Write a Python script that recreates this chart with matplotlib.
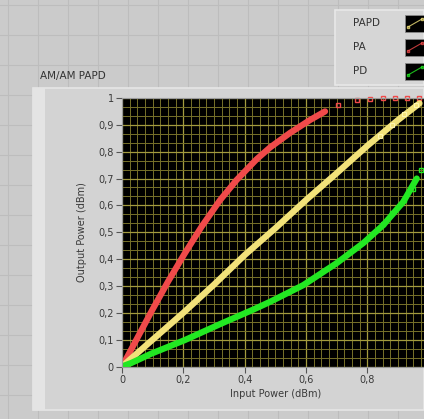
import matplotlib.pyplot as plt
import numpy as np
from matplotlib.patches import Rectangle
from matplotlib.lines import Line2D
from matplotlib.ticker import MultipleLocator, FuncFormatter

# values
pa_x = [0, 0.02, 0.096, 0.15, 0.204, 0.259, 0.32, 0.374, 0.439, 0.483, 0.548, 0.613, 0.662]
pa_y = [0, 0.042, 0.205, 0.316, 0.42, 0.52, 0.62, 0.695, 0.772, 0.816, 0.87, 0.918, 0.95]
pa_tail_x = [0.705, 0.765, 0.81, 0.85, 0.89, 0.93, 0.97]
pa_tail_y = [0.975, 0.994, 0.998, 1.0, 1.0, 1.0, 1.0]

papd_x = [0, 0.1, 0.2, 0.3, 0.4, 0.5, 0.6, 0.7, 0.8, 0.9, 0.97]
papd_y = [0, 0.1, 0.2, 0.305, 0.415, 0.515, 0.62, 0.72, 0.822, 0.918, 0.98]
papd_tail_x = [0.84, 0.88, 0.92, 0.96]
papd_tail_y = [0.86, 0.9, 0.94, 0.975]

pd_x = [0, 0.03, 0.096, 0.204, 0.32, 0.428, 0.483, 0.591, 0.7, 0.787, 0.852, 0.917, 0.961]
pd_y = [0, 0.013, 0.048, 0.098, 0.158, 0.212, 0.241, 0.303, 0.385, 0.46, 0.527, 0.613, 0.7]
pd_tail_x = [0.85, 0.88, 0.92, 0.95, 0.975]
pd_tail_y = [0.53, 0.57, 0.62, 0.66, 0.73]

legend_names = ['PAPD', 'PA', 'PD']
colors = {'PAPD': '#f2e27a', 'PA': '#f04a4a', 'PD': '#22e822'}

W, H = 424, 419


def fx(px):
    return px / W


def fy(py):
    return 1 - py / H


fig = plt.figure(figsize=(W / 100, H / 100), dpi=100)
fig.patch.set_facecolor('#cbcbcb')

# labview panel grid (behind everything)
for gx in range(8, W, 30):
    fig.add_artist(Line2D([fx(gx), fx(gx)], [0, 1], color='#bdbdbd', lw=0.8, zorder=-3))
for gy in range(5, H, 30):
    fig.add_artist(Line2D([0, 1], [fy(gy), fy(gy)], color='#bdbdbd', lw=0.8, zorder=-3))

# chart frame
fig.add_artist(Rectangle((fx(33), fy(410)), fx(424 - 33), (410 - 88) / H,
                         facecolor='#d3d3d3', edgecolor='#e6e6e6', lw=1.2, zorder=-2))
fig.add_artist(Rectangle((fx(33), fy(410)), fx(12), (410 - 88) / H,
                         facecolor='#e4e4e4', edgecolor='none', zorder=-1))
fig.text(fx(40), fy(76), 'AM/AM PAPD', fontsize=7.5, color='#333333', va='center')

# legend box
fig.add_artist(Rectangle((fx(335), fy(85)), fx(424 - 335), (85 - 10) / H,
                         facecolor='#d6d6d6', edgecolor='#e8e8e8', lw=1.2, zorder=-2))
for i, name in enumerate(legend_names):
    cy = 23 + i * 24
    fig.text(fx(353), fy(cy), name, fontsize=7.5, color='#333333', va='center')
    fig.add_artist(Rectangle((fx(405), fy(cy + 9)), fx(22), 17 / H,
                             facecolor='black', edgecolor='#888888', lw=0.6, zorder=-1))
    fig.add_artist(Line2D([fx(408), fx(422)], [fy(cy + 4), fy(cy - 4)],
                          color=colors[name], lw=0.8, marker='s', ms=1.5,
                          mfc='none', alpha=0.8, zorder=0))

ax = fig.add_axes([fx(122), fy(366.5), 306.7 / W, 268.5 / H])
ax.set_zorder(5)
ax.set_facecolor('black')
ax.set_xlim(0, 1)
ax.set_ylim(0, 1)

ax.xaxis.set_major_locator(MultipleLocator(0.2))
ax.xaxis.set_minor_locator(MultipleLocator(0.025))
ax.yaxis.set_major_locator(MultipleLocator(0.1))
ax.yaxis.set_minor_locator(MultipleLocator(0.1 / 3))
ax.grid(which='minor', color='#77712a', lw=0.7)
ax.grid(which='major', color='#a39b3e', lw=0.9)
ax.set_axisbelow(True)

yfmt = FuncFormatter(lambda v, p: ('%g' % round(v, 2)).replace('.', ','))
# the x label at 1 falls outside the cropped screenshot
xfmt = FuncFormatter(lambda v, p: '' if v > 0.95 else ('%g' % round(v, 2)).replace('.', ','))
ax.xaxis.set_major_formatter(xfmt)
ax.yaxis.set_major_formatter(yfmt)
ax.tick_params(which='major', length=4, width=0.8, color='#555555',
               labelsize=7, labelcolor='#3a3a3a', pad=2)
ax.tick_params(which='minor', length=0)
for s in ax.spines.values():
    s.set_color('#9a9a9a')
    s.set_linewidth(0.8)

ax.set_xlabel('Input Power (dBm)', fontsize=7, color='#3a3a3a', labelpad=3)
ax.set_ylabel('Output Power (dBm)', fontsize=7, color='#3a3a3a', labelpad=8)

ax.plot(pa_x, pa_y, color=colors['PA'], lw=4.5, solid_capstyle='round')
ax.plot(pa_tail_x, pa_tail_y, ls='none', marker='s', ms=3, mfc='none',
        mec=colors['PA'], mew=1, clip_on=False)
ax.plot(papd_x, papd_y, color=colors['PAPD'], lw=4.5, solid_capstyle='round')
ax.plot(papd_tail_x, papd_tail_y, ls='none', marker='s', ms=3, mfc='none',
        mec='#fff6b0', mew=0.8)
ax.plot(pd_x, pd_y, color=colors['PD'], lw=4.5, solid_capstyle='round')
ax.plot(pd_tail_x, pd_tail_y, ls='none', marker='s', ms=3, mfc='none',
        mec=colors['PD'], mew=1)

fig.savefig('out.png', dpi=100, facecolor=fig.get_facecolor())
